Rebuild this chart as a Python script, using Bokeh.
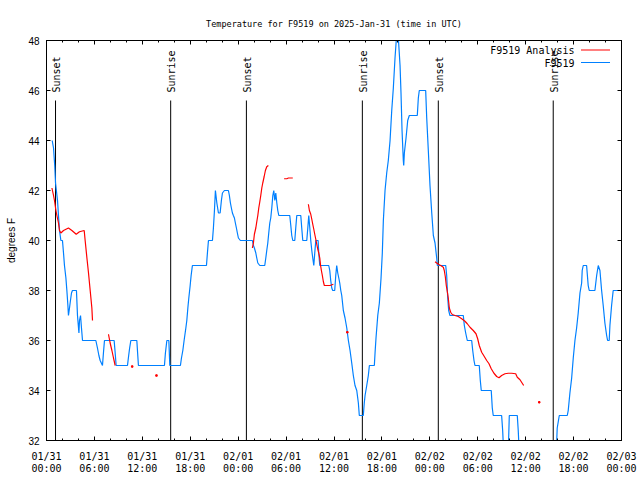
import math
import numpy as np
import pandas as pd
from bokeh.plotting import figure
from bokeh.models import (Range1d, FixedTicker, DatetimeTickFormatter, LinearAxis,
                          DatetimeAxis, Label, Arrow, ColumnDataSource, CustomJSTickFormatter)
from bokeh.core.properties import value
from bokeh.embed import file_html
from bokeh.resources import INLINE

START = pd.Timestamp("2025-01-31 00:00")
NAN = float("nan")

# ---- observations (F9519), hours since 2025-01-31 00:00 UTC ----
obs_hours = [0.71, 0.88, 1.03, 1.13, 1.38, 1.50, 1.63, 1.80, 2.00, 2.13, 2.25, 2.43, 2.55, 2.68, 2.75, 2.88,
             3.00, 3.13, 3.25, 3.75, 3.88, 4.06, 4.13, 4.26, 4.38, 4.51, 6.18, 6.38, 6.56, 6.72, 7.01, 7.13,
             7.26, 8.47, 8.60, 8.72, 10.14, 10.29, 10.41, 10.56, 11.31, 11.41, 11.51, 14.77, 14.89, 15.07,
             15.32, 15.44, 16.77, 16.90, 17.07, 17.23, 17.45, 17.57, 17.70, 17.82, 17.99, 18.11, 18.27,
             20.03, 20.15, 20.28, 20.78, 20.90, 21.03, 21.15, 21.33, 21.53, 21.74, 21.90, 22.03, 22.28,
             22.78, 22.90, 23.03, 23.15, 23.28, 23.40, 23.53, 23.65, 23.78, 23.90, 24.03, 24.28, 25.78,
             25.91, 26.03, 26.21, 26.33, 26.46, 26.71, 27.33, 27.46, 27.58, 27.71, 27.83, 27.96, 28.08,
             28.21, 28.34, 28.46, 28.59, 28.71, 28.84, 28.96, 29.09, 30.46, 30.59, 30.71, 30.84, 31.09,
             31.21, 31.34, 31.84, 31.96, 32.09, 32.59, 32.72, 32.84, 32.97, 33.09, 33.22, 33.34, 33.47,
             33.59, 33.72, 34.01, 34.09, 34.22, 35.34, 35.47, 35.59, 35.72, 35.84, 36.09, 36.22, 36.34,
             36.47, 36.60, 36.72, 36.85, 36.97, 37.17, 37.38, 37.60, 37.80, 38.01, 38.22, 38.42, 38.63,
             38.85, 39.05, 39.17, 39.67, 39.79, 39.89, 40.10, 40.30, 40.43, 41.05, 41.14, 41.26, 41.48,
             41.68, 41.89, 42.05, 42.18, 42.39, 42.60, 42.80, 43.02, 43.23, 43.43, 43.64, 43.86, 43.98,
             44.27, 44.39, 44.52, 44.68, 44.73, 44.81, 45.02, 45.23, 45.43, 46.43, 46.56, 46.68, 47.48,
             47.61, 47.81, 48.02, 48.24, 48.44, 48.65, 48.86, 48.94, 49.99, 50.11, 50.24, 50.36, 50.52,
             52.19, 52.32, 52.49, 52.69, 53.24, 53.37, 53.53, 53.65, 54.19, 54.32, 54.44, 55.69, 55.82,
             55.94, 56.99, 57.12, 57.25, 57.82, 57.95, 58.95, 59.07, 59.20, 63.83, 63.95, 64.21, 65.21,
             65.33, 65.54, 65.76, 65.96, 66.17, 66.38, 66.58, 66.80, 67.01, 67.08, 67.21, 67.63, 67.83,
             67.96, 68.67, 68.89, 69.09, 69.30, 69.51, 69.71, 69.92, 70.14, 70.26, 70.46, 70.55, 70.76,
             70.96, 72.0]
obs_temp = [44.0, 43.7, 43.0, 42.3, 41.6, 41.0, 40.4, 40.0, 40.0, 39.5, 39.0, 38.5, 38.0, 37.4, 37.0, 37.3,
            37.6, 37.9, 38.0, 38.0, 37.0, 36.3, 36.8, 37.0, 36.5, 36.0, 36.0, 35.7, 35.4, 35.2, 35.0, 35.5,
            36.0, 36.0, 35.5, 35.0, 35.0, 35.4, 35.7, 36.0, 36.0, 35.5, 35.0, 35.0, 35.5, 36.0,
            36.0, 35.0, 35.0, 35.3, 35.6, 36.0, 36.5, 36.8, 37.3, 37.7, 38.2, 38.6, 39.0,
            39.0, 39.5, 40.0, 40.0, 40.5, 41.2, 42.0, 41.5, 41.1, 41.1, 41.6, 41.9, 42.0,
            42.0, 41.8, 41.5, 41.3, 41.1, 41.0, 40.9, 40.7, 40.5, 40.3, 40.1, 40.0, 40.0,
            39.8, 39.7, 39.5, 39.3, 39.1, 39.0, 39.0, 39.3, 39.6, 39.9, 40.3, 40.7, 40.9,
            41.3, 41.8, 42.0, 41.6, 41.9, 41.5, 41.2, 41.0, 41.0, 40.6, 40.2, 40.0, 40.0,
            40.5, 41.0, 41.0, 40.5, 40.0, 40.0, 40.5, 41.0, 40.5, 40.0, 39.6, 39.3, 39.0,
            39.5, 40.0, 40.0, 39.5, 39.0, 39.0, 38.8, 38.4, 38.1, 38.0, 38.0, 38.6, 39.0,
            38.7, 38.5, 38.3, 38.0, 37.8, 37.2, 36.9, 36.5, 36.0, 35.6, 35.1, 34.6, 34.2,
            34.0, 33.5, 33.0, 33.0, 33.5, 33.8, 34.2, 34.6, 35.0, 35.0, 35.5, 36.1, 37.0,
            37.5, 38.5, 39.5, 40.8, 42.0, 42.7, 43.2, 44.0, 45.2, 46.1, 47.3, 48.3, 48.5,
            47.0, 45.9, 44.4, 43.2, 43.0, 43.5, 44.1, 44.8, 45.0, 45.0, 45.7, 46.0, 46.0,
            44.9, 43.6, 42.2, 41.1, 40.2, 39.9, 39.3, 39.0, 39.0, 38.6, 37.7, 37.2, 37.0,
            37.0, 36.6, 36.3, 36.0, 36.0, 35.6, 35.2, 35.0, 35.0, 34.4, 34.0, 34.0, 33.3,
            33.0, 33.0, 32.4, 31.5, 31.5, 33.0, 33.0, 32.4, 31.5, 31.5, 32.5, 33.0, 33.0,
            33.2, 33.9, 34.5, 35.3, 36.0, 36.5, 37.1, 37.9, 38.3, 38.8, 39.0, 39.0, 38.2,
            38.0, 38.0, 38.6, 39.0, 38.8, 38.0, 37.4, 36.7, 36.2, 36.0, 36.0, 36.6, 37.4,
            38.0, 38.0]

# ---- analysis (F9519 Analysis); NaN = missing ----
ana_hours = [0.68, 0.88, 1.00, 1.18, 1.30, 1.50, 1.63, 1.80, 2.13, 2.75, 3.18, 3.72, 4.13, 4.72, 4.84, 5.06,
             5.26, 5.47, 5.68, 5.76, 6.5,
             7.76, 7.97, 8.19, 8.39, 8.60, 9.5,
             10.73, 12.0,
             13.77, 20.0,
             25.78, 25.91, 26.03, 26.21, 26.33, 26.46, 26.58, 26.71, 26.83, 26.96, 27.08, 27.25, 27.41,
             27.58, 27.78, 28.5,
             29.75, 30.09, 30.29, 30.84, 31.5,
             32.79, 32.92, 33.09, 33.22, 33.34, 33.47, 33.59, 33.72, 33.84, 33.97, 34.09, 34.22, 34.32,
             34.42, 34.54, 34.67, 34.79, 35.51, 35.92, 36.8,
             37.67, 42.0,
             48.65, 48.86, 49.06, 49.36, 49.69, 49.81, 49.94, 50.06, 50.19, 50.31, 50.44, 50.61, 50.81,
             51.15, 51.56, 51.99, 52.40, 52.69, 53.03, 53.44, 53.78, 53.99, 54.19, 54.49, 54.82, 55.12,
             55.41, 55.69, 56.03, 56.37, 56.66, 56.99, 57.41, 57.82, 58.25, 58.75, 58.95, 59.29, 59.57,
             59.75, 60.7,
             61.70]
ana_temp = [42.1, 41.8, 41.6, 41.2, 41.0, 40.7, 40.4, 40.3, 40.4, 40.5, 40.4, 40.25, 40.35, 40.4, 40.0, 39.3,
            38.7, 38.0, 37.3, 36.8, NAN,
            36.25, 35.9, 35.6, 35.3, 35.0, NAN,
            34.96, NAN,
            34.6, NAN,
            39.7, 39.9, 40.25, 40.5, 40.75, 41.0, 41.3, 41.55, 41.8, 42.1, 42.3, 42.55, 42.8,
            42.95, 43.0, NAN,
            42.47, 42.47, 42.5, 42.5, NAN,
            41.45, 41.2, 41.05, 40.85, 40.65, 40.45, 40.25, 40.05, 39.85, 39.65, 39.5, 39.3, 39.0,
            38.8, 38.6, 38.35, 38.2, 38.2, 38.25, NAN,
            36.33, NAN,
            39.15, 39.1, 39.05, 39.0, 38.93, 38.8, 38.55, 38.2, 37.95, 37.7, 37.3, 37.13, 37.04,
            37.0, 36.96, 36.87, 36.77, 36.67, 36.53, 36.4, 36.27, 36.07, 35.8, 35.53, 35.36, 35.2,
            35.07, 34.87, 34.69, 34.56, 34.51, 34.6, 34.67, 34.69, 34.69, 34.67, 34.53, 34.43, 34.29,
            34.2, NAN,
            33.53]

sunset_hours = [1.13, 25.03, 49.06]
sunrise_hours = [15.55, 39.55, 63.45]

y_ticks = [32, 34, 36, 38, 40, 42, 44, 46, 48]
x_major_hours = list(range(0, 73, 6))
x_minor_hours = list(range(0, 73, 2))

TITLE = "Temperature for F9519 on 2025-Jan-31 (time in UTC)"
Y_LABEL = "degrees F"
MONO = "DejaVu Sans Mono"
SANS = "Liberation Sans"
BLUE = "#0080ff"
RED = "#ff0000"


def to_time(h):
    return START + pd.to_timedelta(np.asarray(h, dtype=float), unit="h")


def to_ms(h):
    return [(START + pd.Timedelta(hours=x)).timestamp() * 1000.0 for x in h]


p = figure(width=640, height=480, x_axis_type="datetime", output_backend="svg",
           toolbar_location=None, min_border_left=46, min_border_right=19,
           min_border_top=40, min_border_bottom=40,
           x_range=Range1d(to_time([0])[0], to_time([72])[0]),
           y_range=Range1d(32, 48))
p.xgrid.grid_line_color = None
p.ygrid.grid_line_color = None
p.outline_line_color = "black"
p.outline_line_width = 1
p.background_fill_color = "white"
p.border_fill_color = "white"

p.title.text = TITLE
p.title.align = "center"
p.title.text_font = MONO
p.title.text_font_size = "8.5px"
p.title.text_font_style = "normal"
p.title.text_color = "black"
p.title.standoff = 24

xticker = FixedTicker(ticks=to_ms(x_major_hours), minor_ticks=to_ms(x_minor_hours))
yticker = FixedTicker(ticks=y_ticks, minor_ticks=[])

fmt = "%m/%d\n%H:%M"
xfmt = DatetimeTickFormatter(microseconds=fmt, milliseconds=fmt, seconds=fmt, minsec=fmt,
                             minutes=fmt, hourmin=fmt, hours=fmt, days=fmt, months=fmt, years=fmt)
if "strip_leading_zeros" in DatetimeTickFormatter.properties():
    xfmt.strip_leading_zeros = False
blank = CustomJSTickFormatter(code="return ''")


def style_axis(ax):
    ax.axis_line_color = "black"
    ax.major_tick_line_color = "black"
    ax.minor_tick_line_color = "black"
    ax.major_tick_in = 4
    ax.major_tick_out = 0
    ax.minor_tick_in = 2
    ax.minor_tick_out = 0


xa = p.xaxis[0]
xa.ticker = xticker
xa.formatter = xfmt
style_axis(xa)
xa.major_label_text_font = MONO
xa.major_label_text_font_size = "10px"
xa.major_label_text_color = "black"
xa.major_label_text_line_height = 1.1
xa.major_label_standoff = 10

ya = p.yaxis[0]
ya.ticker = yticker
style_axis(ya)
ya.major_label_text_font = SANS
ya.major_label_text_font_size = "10px"
ya.major_label_text_color = "black"
ya.major_label_standoff = 7
ya.axis_label = Y_LABEL
ya.axis_label_text_font = SANS
ya.axis_label_text_font_size = "10px"
ya.axis_label_text_font_style = "normal"
ya.axis_label_text_color = "black"
ya.axis_label_standoff = 8

top = DatetimeAxis(ticker=xticker, formatter=blank, major_label_standoff=0,
                   major_label_text_font_size="1px")
style_axis(top)
p.add_layout(top, "above")
right = LinearAxis(ticker=yticker, formatter=blank, major_label_standoff=0,
                   major_label_text_font_size="1px")
style_axis(right)
p.add_layout(right, "right")

# sunrise / sunset markers
sun_src = ColumnDataSource(dict(
    t=to_time(sunset_hours + sunrise_hours),
    lab=["Sunset"] * len(sunset_hours) + ["Sunrise"] * len(sunrise_hours)))
p.segment(x0="t", y0=32, x1="t", y1=45.6, source=sun_src, line_color="black", line_width=1)
p.text(x="t", y=45.92, text="lab", source=sun_src, angle=math.pi / 2, text_align="left",
       text_baseline="middle", text_font=value(MONO), text_font_size="10px", text_color="black",
       x_offset=1)

# data
obs_src = ColumnDataSource(dict(t=to_time(obs_hours), v=obs_temp))
p.line("t", "v", source=obs_src, line_color=BLUE, line_width=1.2)

ana_src = ColumnDataSource(dict(t=to_time(ana_hours), v=ana_temp))
p.line("t", "v", source=ana_src, line_color=RED, line_width=1.2)
iso = [i for i, v in enumerate(ana_temp)
       if not math.isnan(v)
       and (i == 0 or math.isnan(ana_temp[i - 1]))
       and (i == len(ana_temp) - 1 or math.isnan(ana_temp[i + 1]))]
iso_src = ColumnDataSource(dict(t=to_time([ana_hours[i] for i in iso]), v=[ana_temp[i] for i in iso]))
p.scatter("t", "v", source=iso_src, marker="square", size=1.5, fill_color=RED, line_color=RED)

# legend (gnuplot style: text right-justified, sample to the right)
for row_y, name, col in [(390, "F9519 Analysis", RED), (377.5, "F9519", BLUE)]:
    p.add_layout(Label(x=528, y=row_y, x_units="screen", y_units="screen", text=name,
                       text_align="right", text_baseline="middle", text_font=MONO,
                       text_font_size="10px", text_color="black"))
    p.add_layout(Arrow(x_start=534.5, y_start=row_y + 0.5, x_end=563.5, y_end=row_y + 0.5,
                       start_units="screen", end_units="screen", end=None,
                       line_color=col, line_width=1.2))

open("out.html", "w").write(file_html(p, INLINE))
